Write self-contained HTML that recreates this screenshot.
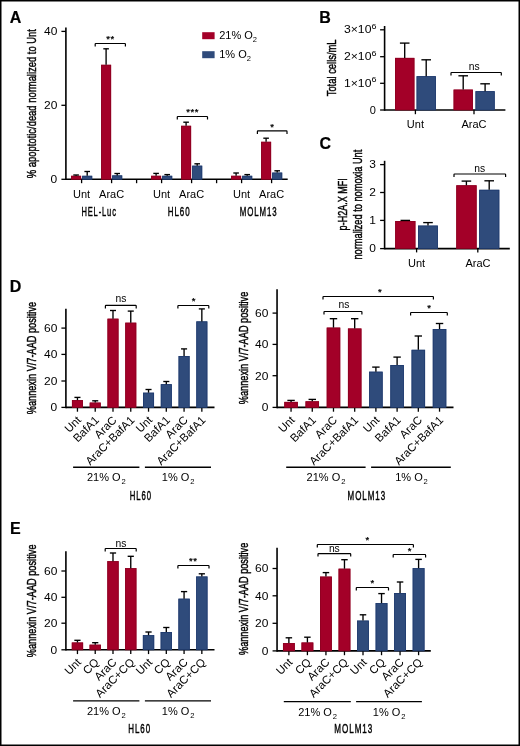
<!DOCTYPE html><html><head><meta charset="utf-8"><title>Figure</title><style>html,body{margin:0;padding:0;background:#fff;width:520px;height:746px;overflow:hidden}svg text{font-family:"Liberation Sans", sans-serif;fill:#000}</style></head><body><svg width="520" height="746" viewBox="0 0 520 746" style="display:block;font-family:'Liberation Sans', sans-serif;will-change:transform">
<rect x="0" y="0" width="520" height="746" fill="#fff"/>
<text x="9.80" y="22.90" font-size="16.0" text-anchor="start" font-weight="bold" stroke="#000" stroke-width="0.2">A</text>
<text x="319.33" y="22.90" font-size="16.0" text-anchor="start" font-weight="bold" stroke="#000" stroke-width="0.2">B</text>
<text x="319.44" y="148.80" font-size="16.0" text-anchor="start" font-weight="bold" stroke="#000" stroke-width="0.2">C</text>
<text x="9.63" y="291.70" font-size="16.0" text-anchor="start" font-weight="bold" stroke="#000" stroke-width="0.2">D</text>
<text x="9.93" y="533.90" font-size="16.0" text-anchor="start" font-weight="bold" stroke="#000" stroke-width="0.2">E</text>
<line x1="65.90" y1="27.60" x2="65.90" y2="180.10" stroke="#000" stroke-width="1.6"/>
<line x1="61.40" y1="31.40" x2="65.90" y2="31.40" stroke="#000" stroke-width="1.3"/>
<text transform="translate(57.30 35.20) scale(1.09 1)" font-size="11" text-anchor="end">40</text>
<line x1="61.40" y1="105.30" x2="65.90" y2="105.30" stroke="#000" stroke-width="1.3"/>
<text transform="translate(57.30 109.10) scale(1.09 1)" font-size="11" text-anchor="end">20</text>
<line x1="61.40" y1="179.30" x2="65.90" y2="179.30" stroke="#000" stroke-width="1.3"/>
<text transform="translate(57.30 183.10) scale(1.09 1)" font-size="11" text-anchor="end">0</text>
<line x1="65.90" y1="179.30" x2="287.70" y2="179.30" stroke="#000" stroke-width="1.6"/>
<line x1="81.60" y1="179.30" x2="81.60" y2="183.20" stroke="#000" stroke-width="1.3"/>
<line x1="111.60" y1="179.30" x2="111.60" y2="183.20" stroke="#000" stroke-width="1.3"/>
<line x1="161.60" y1="179.30" x2="161.60" y2="183.20" stroke="#000" stroke-width="1.3"/>
<line x1="191.60" y1="179.30" x2="191.60" y2="183.20" stroke="#000" stroke-width="1.3"/>
<line x1="241.60" y1="179.30" x2="241.60" y2="183.20" stroke="#000" stroke-width="1.3"/>
<line x1="271.60" y1="179.30" x2="271.60" y2="183.20" stroke="#000" stroke-width="1.3"/>
<line x1="136.60" y1="179.30" x2="136.60" y2="183.20" stroke="#000" stroke-width="1.3"/>
<line x1="216.60" y1="179.30" x2="216.60" y2="183.20" stroke="#000" stroke-width="1.3"/>
<rect x="71.10" y="175.80" width="10.00" height="3.50" fill="#a30028"/>
<rect x="71.50" y="176.20" width="9.20" height="3.10" fill="none" stroke="#8c0020" stroke-width="0.8"/>
<rect x="82.20" y="175.80" width="10.00" height="3.50" fill="#2f4b7b"/>
<rect x="82.60" y="176.20" width="9.20" height="3.10" fill="none" stroke="#1f3a6e" stroke-width="0.8"/>
<line x1="76.10" y1="175.80" x2="76.10" y2="175.00" stroke="#000" stroke-width="1.35"/>
<line x1="73.30" y1="175.00" x2="78.90" y2="175.00" stroke="#000" stroke-width="1.35"/>
<line x1="87.20" y1="175.80" x2="87.20" y2="171.50" stroke="#000" stroke-width="1.35"/>
<line x1="84.40" y1="171.50" x2="90.00" y2="171.50" stroke="#000" stroke-width="1.35"/>
<text x="81.60" y="198.20" font-size="11" text-anchor="middle">Unt</text>
<rect x="101.10" y="64.80" width="10.00" height="114.50" fill="#a30028"/>
<rect x="101.50" y="65.20" width="9.20" height="114.10" fill="none" stroke="#8c0020" stroke-width="0.8"/>
<rect x="112.20" y="175.40" width="10.00" height="3.90" fill="#2f4b7b"/>
<rect x="112.60" y="175.80" width="9.20" height="3.50" fill="none" stroke="#1f3a6e" stroke-width="0.8"/>
<line x1="106.10" y1="64.80" x2="106.10" y2="48.80" stroke="#000" stroke-width="1.35"/>
<line x1="103.30" y1="48.80" x2="108.90" y2="48.80" stroke="#000" stroke-width="1.35"/>
<line x1="117.20" y1="175.40" x2="117.20" y2="173.50" stroke="#000" stroke-width="1.35"/>
<line x1="114.40" y1="173.50" x2="120.00" y2="173.50" stroke="#000" stroke-width="1.35"/>
<text x="111.60" y="198.20" font-size="11" text-anchor="middle">AraC</text>
<rect x="151.10" y="175.80" width="10.00" height="3.50" fill="#a30028"/>
<rect x="151.50" y="176.20" width="9.20" height="3.10" fill="none" stroke="#8c0020" stroke-width="0.8"/>
<rect x="162.20" y="175.80" width="10.00" height="3.50" fill="#2f4b7b"/>
<rect x="162.60" y="176.20" width="9.20" height="3.10" fill="none" stroke="#1f3a6e" stroke-width="0.8"/>
<line x1="156.10" y1="175.80" x2="156.10" y2="173.40" stroke="#000" stroke-width="1.35"/>
<line x1="153.30" y1="173.40" x2="158.90" y2="173.40" stroke="#000" stroke-width="1.35"/>
<line x1="167.20" y1="175.80" x2="167.20" y2="174.60" stroke="#000" stroke-width="1.35"/>
<line x1="164.40" y1="174.60" x2="170.00" y2="174.60" stroke="#000" stroke-width="1.35"/>
<text x="161.60" y="198.20" font-size="11" text-anchor="middle">Unt</text>
<rect x="181.10" y="125.80" width="10.00" height="53.50" fill="#a30028"/>
<rect x="181.50" y="126.20" width="9.20" height="53.10" fill="none" stroke="#8c0020" stroke-width="0.8"/>
<rect x="192.20" y="165.70" width="10.00" height="13.60" fill="#2f4b7b"/>
<rect x="192.60" y="166.10" width="9.20" height="13.20" fill="none" stroke="#1f3a6e" stroke-width="0.8"/>
<line x1="186.10" y1="125.80" x2="186.10" y2="122.20" stroke="#000" stroke-width="1.35"/>
<line x1="183.30" y1="122.20" x2="188.90" y2="122.20" stroke="#000" stroke-width="1.35"/>
<line x1="197.20" y1="165.70" x2="197.20" y2="163.80" stroke="#000" stroke-width="1.35"/>
<line x1="194.40" y1="163.80" x2="200.00" y2="163.80" stroke="#000" stroke-width="1.35"/>
<text x="191.60" y="198.20" font-size="11" text-anchor="middle">AraC</text>
<rect x="231.10" y="175.80" width="10.00" height="3.50" fill="#a30028"/>
<rect x="231.50" y="176.20" width="9.20" height="3.10" fill="none" stroke="#8c0020" stroke-width="0.8"/>
<rect x="242.20" y="175.80" width="10.00" height="3.50" fill="#2f4b7b"/>
<rect x="242.60" y="176.20" width="9.20" height="3.10" fill="none" stroke="#1f3a6e" stroke-width="0.8"/>
<line x1="236.10" y1="175.80" x2="236.10" y2="173.00" stroke="#000" stroke-width="1.35"/>
<line x1="233.30" y1="173.00" x2="238.90" y2="173.00" stroke="#000" stroke-width="1.35"/>
<line x1="247.20" y1="175.80" x2="247.20" y2="174.60" stroke="#000" stroke-width="1.35"/>
<line x1="244.40" y1="174.60" x2="250.00" y2="174.60" stroke="#000" stroke-width="1.35"/>
<text x="241.60" y="198.20" font-size="11" text-anchor="middle">Unt</text>
<rect x="261.10" y="141.80" width="10.00" height="37.50" fill="#a30028"/>
<rect x="261.50" y="142.20" width="9.20" height="37.10" fill="none" stroke="#8c0020" stroke-width="0.8"/>
<rect x="272.20" y="172.60" width="10.00" height="6.70" fill="#2f4b7b"/>
<rect x="272.60" y="173.00" width="9.20" height="6.30" fill="none" stroke="#1f3a6e" stroke-width="0.8"/>
<line x1="266.10" y1="141.80" x2="266.10" y2="138.20" stroke="#000" stroke-width="1.35"/>
<line x1="263.30" y1="138.20" x2="268.90" y2="138.20" stroke="#000" stroke-width="1.35"/>
<line x1="277.20" y1="172.60" x2="277.20" y2="170.80" stroke="#000" stroke-width="1.35"/>
<line x1="274.40" y1="170.80" x2="280.00" y2="170.80" stroke="#000" stroke-width="1.35"/>
<text x="271.60" y="198.20" font-size="11" text-anchor="middle">AraC</text>
<path d="M95.20,46.50 L95.20,44.10 Q95.20,43.50 95.80,43.50 L124.80,43.50 Q125.40,43.50 125.40,44.10 L125.40,46.50" fill="none" stroke="#000" stroke-width="1.2"/>
<text x="110.50" y="42.18" font-size="9.5" text-anchor="middle" stroke="#000" stroke-width="0.25" letter-spacing="0.6">**</text>
<path d="M177.30,119.50 L177.30,117.10 Q177.30,116.50 177.90,116.50 L206.90,116.50 Q207.50,116.50 207.50,117.10 L207.50,119.50" fill="none" stroke="#000" stroke-width="1.2"/>
<text x="192.70" y="115.29" font-size="9.5" text-anchor="middle" stroke="#000" stroke-width="0.25" letter-spacing="0.6">***</text>
<path d="M257.40,133.90 L257.40,131.50 Q257.40,130.90 258.00,130.90 L286.40,130.90 Q287.00,130.90 287.00,131.50 L287.00,133.90" fill="none" stroke="#000" stroke-width="1.2"/>
<text x="272.50" y="129.69" font-size="9.5" text-anchor="middle" stroke="#000" stroke-width="0.25" letter-spacing="0.6">*</text>
<text transform="translate(81.42 216.20) scale(0.5560 1)" font-size="13.5" letter-spacing="1.6" stroke="#000" stroke-width="0.45">HEL-Luc</text>
<text transform="translate(167.68 216.20) scale(0.5906 1)" font-size="13.5" letter-spacing="1.6" stroke="#000" stroke-width="0.45">HL60</text>
<text transform="translate(239.69 216.20) scale(0.5829 1)" font-size="13.5" letter-spacing="1.6" stroke="#000" stroke-width="0.45">MOLM13</text>
<rect x="202.2" y="32.2" width="12.4" height="7" fill="#a30028"/>
<rect x="202.2" y="51.2" width="12.4" height="7" fill="#2f4b7b"/>
<text x="219.2" y="39.4" font-size="11">21% O<tspan font-size="7.5" dy="3">2</tspan></text>
<text x="219.2" y="58.2" font-size="11">1% O<tspan font-size="7.5" dy="3">2</tspan></text>
<text transform="translate(36.10 178.14) rotate(-90)" font-size="13.5" textLength="149.10" lengthAdjust="spacingAndGlyphs" stroke="#000" stroke-width="0.45">% apoptotic/dead normalized to Unt</text>
<line x1="384.60" y1="26.00" x2="384.60" y2="110.80" stroke="#000" stroke-width="1.6"/>
<line x1="380.10" y1="29.80" x2="384.60" y2="29.80" stroke="#000" stroke-width="1.3"/>
<text x="344.0" y="33.20" font-size="10.6" textLength="32.4" lengthAdjust="spacingAndGlyphs">3×10<tspan font-size="7.8" dy="-4.4">6</tspan></text>
<line x1="380.10" y1="56.70" x2="384.60" y2="56.70" stroke="#000" stroke-width="1.3"/>
<text x="344.0" y="60.10" font-size="10.6" textLength="32.4" lengthAdjust="spacingAndGlyphs">2×10<tspan font-size="7.8" dy="-4.4">6</tspan></text>
<line x1="380.10" y1="83.30" x2="384.60" y2="83.30" stroke="#000" stroke-width="1.3"/>
<text x="344.0" y="86.70" font-size="10.6" textLength="32.4" lengthAdjust="spacingAndGlyphs">1×10<tspan font-size="7.8" dy="-4.4">6</tspan></text>
<line x1="380.10" y1="110.00" x2="384.60" y2="110.00" stroke="#000" stroke-width="1.3"/>
<text x="375.80" y="113.80" font-size="11" text-anchor="end">0</text>
<line x1="384.60" y1="110.00" x2="505.40" y2="110.00" stroke="#000" stroke-width="1.6"/>
<line x1="415.40" y1="110.00" x2="415.40" y2="114.20" stroke="#000" stroke-width="1.3"/>
<line x1="474.00" y1="110.00" x2="474.00" y2="114.20" stroke="#000" stroke-width="1.3"/>
<rect x="395.00" y="57.90" width="19.40" height="52.10" fill="#a30028"/>
<rect x="395.40" y="58.30" width="18.60" height="51.70" fill="none" stroke="#8c0020" stroke-width="0.8"/>
<line x1="404.70" y1="57.90" x2="404.70" y2="43.10" stroke="#000" stroke-width="1.35"/>
<line x1="399.90" y1="43.10" x2="409.50" y2="43.10" stroke="#000" stroke-width="1.35"/>
<rect x="416.60" y="76.20" width="19.30" height="33.80" fill="#2f4b7b"/>
<rect x="417.00" y="76.60" width="18.50" height="33.40" fill="none" stroke="#1f3a6e" stroke-width="0.8"/>
<line x1="426.20" y1="76.20" x2="426.20" y2="59.80" stroke="#000" stroke-width="1.35"/>
<line x1="421.40" y1="59.80" x2="431.00" y2="59.80" stroke="#000" stroke-width="1.35"/>
<rect x="453.60" y="89.60" width="19.30" height="20.40" fill="#a30028"/>
<rect x="454.00" y="90.00" width="18.50" height="20.00" fill="none" stroke="#8c0020" stroke-width="0.8"/>
<line x1="463.20" y1="89.60" x2="463.20" y2="75.80" stroke="#000" stroke-width="1.35"/>
<line x1="458.40" y1="75.80" x2="468.00" y2="75.80" stroke="#000" stroke-width="1.35"/>
<rect x="475.50" y="91.20" width="19.20" height="18.80" fill="#2f4b7b"/>
<rect x="475.90" y="91.60" width="18.40" height="18.40" fill="none" stroke="#1f3a6e" stroke-width="0.8"/>
<line x1="485.10" y1="91.20" x2="485.10" y2="83.80" stroke="#000" stroke-width="1.35"/>
<line x1="480.30" y1="83.80" x2="489.90" y2="83.80" stroke="#000" stroke-width="1.35"/>
<path d="M451.00,75.50 L451.00,73.10 Q451.00,72.50 451.60,72.50 L500.70,72.50 Q501.30,72.50 501.30,73.10 L501.30,75.50" fill="none" stroke="#000" stroke-width="1.2"/>
<text x="474.15" y="70.10" font-size="10.3" text-anchor="middle">ns</text>
<text x="415.40" y="128.10" font-size="11" text-anchor="middle">Unt</text>
<text x="474.00" y="128.40" font-size="11" text-anchor="middle">AraC</text>
<text transform="translate(336.10 96.31) rotate(-90)" font-size="13.5" textLength="56.91" lengthAdjust="spacingAndGlyphs" stroke="#000" stroke-width="0.45">Total cells/mL</text>
<line x1="384.60" y1="160.80" x2="384.60" y2="249.40" stroke="#000" stroke-width="1.6"/>
<line x1="380.10" y1="164.60" x2="384.60" y2="164.60" stroke="#000" stroke-width="1.3"/>
<text transform="translate(376.00 168.40) scale(1.09 1)" font-size="11" text-anchor="end">3</text>
<line x1="380.10" y1="192.50" x2="384.60" y2="192.50" stroke="#000" stroke-width="1.3"/>
<text transform="translate(376.00 196.30) scale(1.09 1)" font-size="11" text-anchor="end">2</text>
<line x1="380.10" y1="220.40" x2="384.60" y2="220.40" stroke="#000" stroke-width="1.3"/>
<text transform="translate(376.00 224.20) scale(1.09 1)" font-size="11" text-anchor="end">1</text>
<line x1="380.10" y1="248.60" x2="384.60" y2="248.60" stroke="#000" stroke-width="1.3"/>
<text transform="translate(376.00 252.40) scale(1.09 1)" font-size="11" text-anchor="end">0</text>
<line x1="384.60" y1="248.60" x2="509.80" y2="248.60" stroke="#000" stroke-width="1.6"/>
<line x1="416.60" y1="248.60" x2="416.60" y2="252.40" stroke="#000" stroke-width="1.3"/>
<line x1="477.80" y1="248.60" x2="477.80" y2="252.40" stroke="#000" stroke-width="1.3"/>
<rect x="395.20" y="221.00" width="20.20" height="27.60" fill="#a30028"/>
<rect x="395.60" y="221.40" width="19.40" height="27.20" fill="none" stroke="#8c0020" stroke-width="0.8"/>
<line x1="405.30" y1="221.00" x2="405.30" y2="220.40" stroke="#000" stroke-width="1.35"/>
<line x1="400.50" y1="220.40" x2="410.10" y2="220.40" stroke="#000" stroke-width="1.35"/>
<rect x="418.00" y="225.60" width="19.90" height="23.00" fill="#2f4b7b"/>
<rect x="418.40" y="226.00" width="19.10" height="22.60" fill="none" stroke="#1f3a6e" stroke-width="0.8"/>
<line x1="428.00" y1="225.60" x2="428.00" y2="222.60" stroke="#000" stroke-width="1.35"/>
<line x1="423.20" y1="222.60" x2="432.80" y2="222.60" stroke="#000" stroke-width="1.35"/>
<rect x="456.30" y="185.30" width="20.30" height="63.30" fill="#a30028"/>
<rect x="456.70" y="185.70" width="19.50" height="62.90" fill="none" stroke="#8c0020" stroke-width="0.8"/>
<line x1="466.40" y1="185.30" x2="466.40" y2="181.10" stroke="#000" stroke-width="1.35"/>
<line x1="461.60" y1="181.10" x2="471.20" y2="181.10" stroke="#000" stroke-width="1.35"/>
<rect x="479.20" y="189.80" width="20.10" height="58.80" fill="#2f4b7b"/>
<rect x="479.60" y="190.20" width="19.30" height="58.40" fill="none" stroke="#1f3a6e" stroke-width="0.8"/>
<line x1="489.20" y1="189.80" x2="489.20" y2="180.80" stroke="#000" stroke-width="1.35"/>
<line x1="484.40" y1="180.80" x2="494.00" y2="180.80" stroke="#000" stroke-width="1.35"/>
<path d="M454.00,177.00 L454.00,174.60 Q454.00,174.00 454.60,174.00 L505.00,174.00 Q505.60,174.00 505.60,174.60 L505.60,177.00" fill="none" stroke="#000" stroke-width="1.2"/>
<text x="479.70" y="172.10" font-size="10.3" text-anchor="middle">ns</text>
<text x="416.50" y="267.10" font-size="11" text-anchor="middle">Unt</text>
<text x="478.00" y="267.00" font-size="11" text-anchor="middle">AraC</text>
<text transform="translate(346.70 230.38) rotate(-90)" font-size="13.5" textLength="52.11" lengthAdjust="spacingAndGlyphs" stroke="#000" stroke-width="0.45">p-H2A.X MFI</text>
<text transform="translate(361.70 259.51) rotate(-90)" font-size="13.5" textLength="109.78" lengthAdjust="spacingAndGlyphs" stroke="#000" stroke-width="0.45">normalized to nomoxia Unt</text>
<line x1="65.90" y1="308.80" x2="65.90" y2="408.20" stroke="#000" stroke-width="1.6"/>
<line x1="61.40" y1="328.10" x2="65.90" y2="328.10" stroke="#000" stroke-width="1.3"/>
<text transform="translate(57.30 331.90) scale(1.09 1)" font-size="11" text-anchor="end">60</text>
<line x1="61.40" y1="354.40" x2="65.90" y2="354.40" stroke="#000" stroke-width="1.3"/>
<text transform="translate(57.30 358.20) scale(1.09 1)" font-size="11" text-anchor="end">40</text>
<line x1="61.40" y1="381.00" x2="65.90" y2="381.00" stroke="#000" stroke-width="1.3"/>
<text transform="translate(57.30 384.80) scale(1.09 1)" font-size="11" text-anchor="end">20</text>
<line x1="61.40" y1="407.40" x2="65.90" y2="407.40" stroke="#000" stroke-width="1.3"/>
<text transform="translate(57.30 411.20) scale(1.09 1)" font-size="11" text-anchor="end">0</text>
<line x1="65.90" y1="407.40" x2="214.50" y2="407.40" stroke="#000" stroke-width="1.6"/>
<line x1="77.45" y1="407.40" x2="77.45" y2="411.70" stroke="#000" stroke-width="1.3"/>
<rect x="71.95" y="400.10" width="11.00" height="7.30" fill="#a30028"/>
<rect x="72.35" y="400.50" width="10.20" height="6.90" fill="none" stroke="#8c0020" stroke-width="0.8"/>
<line x1="77.45" y1="400.10" x2="77.45" y2="397.40" stroke="#000" stroke-width="1.35"/>
<line x1="74.42" y1="397.40" x2="80.48" y2="397.40" stroke="#000" stroke-width="1.35"/>
<text x="81.85" y="420.80" font-size="11.4" text-anchor="end" transform="rotate(-45 81.85 420.80)">Unt</text>
<line x1="95.22" y1="407.40" x2="95.22" y2="411.70" stroke="#000" stroke-width="1.3"/>
<rect x="89.72" y="402.60" width="11.00" height="4.80" fill="#a30028"/>
<rect x="90.12" y="403.00" width="10.20" height="4.40" fill="none" stroke="#8c0020" stroke-width="0.8"/>
<line x1="95.22" y1="402.60" x2="95.22" y2="400.80" stroke="#000" stroke-width="1.35"/>
<line x1="92.19" y1="400.80" x2="98.25" y2="400.80" stroke="#000" stroke-width="1.35"/>
<text x="99.62" y="420.80" font-size="11.4" text-anchor="end" transform="rotate(-45 99.62 420.80)">BafA1</text>
<line x1="112.99" y1="407.40" x2="112.99" y2="411.70" stroke="#000" stroke-width="1.3"/>
<rect x="107.49" y="318.70" width="11.00" height="88.70" fill="#a30028"/>
<rect x="107.89" y="319.10" width="10.20" height="88.30" fill="none" stroke="#8c0020" stroke-width="0.8"/>
<line x1="112.99" y1="318.70" x2="112.99" y2="310.50" stroke="#000" stroke-width="1.35"/>
<line x1="109.97" y1="310.50" x2="116.02" y2="310.50" stroke="#000" stroke-width="1.35"/>
<text x="117.39" y="420.80" font-size="11.4" text-anchor="end" transform="rotate(-45 117.39 420.80)">AraC</text>
<line x1="130.76" y1="407.40" x2="130.76" y2="411.70" stroke="#000" stroke-width="1.3"/>
<rect x="125.26" y="322.70" width="11.00" height="84.70" fill="#a30028"/>
<rect x="125.66" y="323.10" width="10.20" height="84.30" fill="none" stroke="#8c0020" stroke-width="0.8"/>
<line x1="130.76" y1="322.70" x2="130.76" y2="311.10" stroke="#000" stroke-width="1.35"/>
<line x1="127.73" y1="311.10" x2="133.78" y2="311.10" stroke="#000" stroke-width="1.35"/>
<text x="135.16" y="420.80" font-size="11.4" text-anchor="end" transform="rotate(-45 135.16 420.80)">AraC+BafA1</text>
<line x1="148.53" y1="407.40" x2="148.53" y2="411.70" stroke="#000" stroke-width="1.3"/>
<rect x="143.03" y="392.70" width="11.00" height="14.70" fill="#2f4b7b"/>
<rect x="143.43" y="393.10" width="10.20" height="14.30" fill="none" stroke="#1f3a6e" stroke-width="0.8"/>
<line x1="148.53" y1="392.70" x2="148.53" y2="389.50" stroke="#000" stroke-width="1.35"/>
<line x1="145.50" y1="389.50" x2="151.56" y2="389.50" stroke="#000" stroke-width="1.35"/>
<text x="152.93" y="420.80" font-size="11.4" text-anchor="end" transform="rotate(-45 152.93 420.80)">Unt</text>
<line x1="166.30" y1="407.40" x2="166.30" y2="411.70" stroke="#000" stroke-width="1.3"/>
<rect x="160.80" y="384.20" width="11.00" height="23.20" fill="#2f4b7b"/>
<rect x="161.20" y="384.60" width="10.20" height="22.80" fill="none" stroke="#1f3a6e" stroke-width="0.8"/>
<line x1="166.30" y1="384.20" x2="166.30" y2="381.50" stroke="#000" stroke-width="1.35"/>
<line x1="163.28" y1="381.50" x2="169.33" y2="381.50" stroke="#000" stroke-width="1.35"/>
<text x="170.70" y="420.80" font-size="11.4" text-anchor="end" transform="rotate(-45 170.70 420.80)">BafA1</text>
<line x1="184.07" y1="407.40" x2="184.07" y2="411.70" stroke="#000" stroke-width="1.3"/>
<rect x="178.57" y="356.00" width="11.00" height="51.40" fill="#2f4b7b"/>
<rect x="178.97" y="356.40" width="10.20" height="51.00" fill="none" stroke="#1f3a6e" stroke-width="0.8"/>
<line x1="184.07" y1="356.00" x2="184.07" y2="348.90" stroke="#000" stroke-width="1.35"/>
<line x1="181.04" y1="348.90" x2="187.09" y2="348.90" stroke="#000" stroke-width="1.35"/>
<text x="188.47" y="420.80" font-size="11.4" text-anchor="end" transform="rotate(-45 188.47 420.80)">AraC</text>
<line x1="201.84" y1="407.40" x2="201.84" y2="411.70" stroke="#000" stroke-width="1.3"/>
<rect x="196.34" y="321.40" width="11.00" height="86.00" fill="#2f4b7b"/>
<rect x="196.74" y="321.80" width="10.20" height="85.60" fill="none" stroke="#1f3a6e" stroke-width="0.8"/>
<line x1="201.84" y1="321.40" x2="201.84" y2="308.90" stroke="#000" stroke-width="1.35"/>
<line x1="198.81" y1="308.90" x2="204.87" y2="308.90" stroke="#000" stroke-width="1.35"/>
<text x="206.24" y="420.80" font-size="11.4" text-anchor="end" transform="rotate(-45 206.24 420.80)">AraC+BafA1</text>
<path d="M105.40,308.40 L105.40,306.00 Q105.40,305.40 106.00,305.40 L135.60,305.40 Q136.20,305.40 136.20,306.00 L136.20,308.40" fill="none" stroke="#000" stroke-width="1.2"/>
<text x="121.00" y="302.10" font-size="10.3" text-anchor="middle">ns</text>
<path d="M177.90,308.50 L177.90,306.10 Q177.90,305.50 178.50,305.50 L208.20,305.50 Q208.80,305.50 208.80,306.10 L208.80,308.50" fill="none" stroke="#000" stroke-width="1.2"/>
<text x="193.80" y="303.88" font-size="9.5" text-anchor="middle" stroke="#000" stroke-width="0.25" letter-spacing="0.6">*</text>
<line x1="73.10" y1="467.30" x2="139.40" y2="467.30" stroke="#000" stroke-width="1.4"/>
<line x1="144.90" y1="467.30" x2="211.00" y2="467.30" stroke="#000" stroke-width="1.4"/>
<text x="106.30" y="481.20" font-size="11" text-anchor="middle">21% O<tspan font-size="7.6" dx="0.9" dy="3">2</tspan></text>
<text x="178.10" y="481.20" font-size="11" text-anchor="middle">1% O<tspan font-size="7.6" dx="0.9" dy="3">2</tspan></text>
<text transform="translate(129.70 499.60) scale(0.5737 1)" font-size="13.5" letter-spacing="1.6" stroke="#000" stroke-width="0.45">HL60</text>
<text transform="translate(36.10 414.23) rotate(-90)" font-size="13.5" textLength="112.34" lengthAdjust="spacingAndGlyphs" stroke="#000" stroke-width="0.45">%annexin V/7-AAD positive</text>
<line x1="277.05" y1="289.20" x2="277.05" y2="408.20" stroke="#000" stroke-width="1.6"/>
<line x1="272.55" y1="313.10" x2="277.05" y2="313.10" stroke="#000" stroke-width="1.3"/>
<text transform="translate(268.45 316.90) scale(1.09 1)" font-size="11" text-anchor="end">60</text>
<line x1="272.55" y1="344.40" x2="277.05" y2="344.40" stroke="#000" stroke-width="1.3"/>
<text transform="translate(268.45 348.20) scale(1.09 1)" font-size="11" text-anchor="end">40</text>
<line x1="272.55" y1="375.70" x2="277.05" y2="375.70" stroke="#000" stroke-width="1.3"/>
<text transform="translate(268.45 379.50) scale(1.09 1)" font-size="11" text-anchor="end">20</text>
<line x1="272.55" y1="407.40" x2="277.05" y2="407.40" stroke="#000" stroke-width="1.3"/>
<text transform="translate(268.45 411.20) scale(1.09 1)" font-size="11" text-anchor="end">0</text>
<line x1="277.05" y1="407.40" x2="453.50" y2="407.40" stroke="#000" stroke-width="1.6"/>
<line x1="291.06" y1="407.40" x2="291.06" y2="411.70" stroke="#000" stroke-width="1.3"/>
<rect x="284.31" y="401.90" width="13.50" height="5.50" fill="#a30028"/>
<rect x="284.71" y="402.30" width="12.70" height="5.10" fill="none" stroke="#8c0020" stroke-width="0.8"/>
<line x1="291.06" y1="401.90" x2="291.06" y2="400.40" stroke="#000" stroke-width="1.35"/>
<line x1="287.35" y1="400.40" x2="294.77" y2="400.40" stroke="#000" stroke-width="1.35"/>
<text x="295.46" y="420.80" font-size="11.4" text-anchor="end" transform="rotate(-45 295.46 420.80)">Unt</text>
<line x1="312.27" y1="407.40" x2="312.27" y2="411.70" stroke="#000" stroke-width="1.3"/>
<rect x="305.52" y="401.30" width="13.50" height="6.10" fill="#a30028"/>
<rect x="305.92" y="401.70" width="12.70" height="5.70" fill="none" stroke="#8c0020" stroke-width="0.8"/>
<line x1="312.27" y1="401.30" x2="312.27" y2="399.40" stroke="#000" stroke-width="1.35"/>
<line x1="308.56" y1="399.40" x2="315.98" y2="399.40" stroke="#000" stroke-width="1.35"/>
<text x="316.67" y="420.80" font-size="11.4" text-anchor="end" transform="rotate(-45 316.67 420.80)">BafA1</text>
<line x1="333.48" y1="407.40" x2="333.48" y2="411.70" stroke="#000" stroke-width="1.3"/>
<rect x="326.73" y="327.60" width="13.50" height="79.80" fill="#a30028"/>
<rect x="327.13" y="328.00" width="12.70" height="79.40" fill="none" stroke="#8c0020" stroke-width="0.8"/>
<line x1="333.48" y1="327.60" x2="333.48" y2="318.70" stroke="#000" stroke-width="1.35"/>
<line x1="329.77" y1="318.70" x2="337.19" y2="318.70" stroke="#000" stroke-width="1.35"/>
<text x="337.88" y="420.80" font-size="11.4" text-anchor="end" transform="rotate(-45 337.88 420.80)">AraC</text>
<line x1="354.69" y1="407.40" x2="354.69" y2="411.70" stroke="#000" stroke-width="1.3"/>
<rect x="347.94" y="328.50" width="13.50" height="78.90" fill="#a30028"/>
<rect x="348.34" y="328.90" width="12.70" height="78.50" fill="none" stroke="#8c0020" stroke-width="0.8"/>
<line x1="354.69" y1="328.50" x2="354.69" y2="318.70" stroke="#000" stroke-width="1.35"/>
<line x1="350.98" y1="318.70" x2="358.40" y2="318.70" stroke="#000" stroke-width="1.35"/>
<text x="359.09" y="420.80" font-size="11.4" text-anchor="end" transform="rotate(-45 359.09 420.80)">AraC+BafA1</text>
<line x1="375.90" y1="407.40" x2="375.90" y2="411.70" stroke="#000" stroke-width="1.3"/>
<rect x="369.15" y="371.70" width="13.50" height="35.70" fill="#2f4b7b"/>
<rect x="369.55" y="372.10" width="12.70" height="35.30" fill="none" stroke="#1f3a6e" stroke-width="0.8"/>
<line x1="375.90" y1="371.70" x2="375.90" y2="367.10" stroke="#000" stroke-width="1.35"/>
<line x1="372.19" y1="367.10" x2="379.61" y2="367.10" stroke="#000" stroke-width="1.35"/>
<text x="380.30" y="420.80" font-size="11.4" text-anchor="end" transform="rotate(-45 380.30 420.80)">Unt</text>
<line x1="397.11" y1="407.40" x2="397.11" y2="411.70" stroke="#000" stroke-width="1.3"/>
<rect x="390.36" y="365.00" width="13.50" height="42.40" fill="#2f4b7b"/>
<rect x="390.76" y="365.40" width="12.70" height="42.00" fill="none" stroke="#1f3a6e" stroke-width="0.8"/>
<line x1="397.11" y1="365.00" x2="397.11" y2="357.10" stroke="#000" stroke-width="1.35"/>
<line x1="393.40" y1="357.10" x2="400.82" y2="357.10" stroke="#000" stroke-width="1.35"/>
<text x="401.51" y="420.80" font-size="11.4" text-anchor="end" transform="rotate(-45 401.51 420.80)">BafA1</text>
<line x1="418.32" y1="407.40" x2="418.32" y2="411.70" stroke="#000" stroke-width="1.3"/>
<rect x="411.57" y="349.80" width="13.50" height="57.60" fill="#2f4b7b"/>
<rect x="411.97" y="350.20" width="12.70" height="57.20" fill="none" stroke="#1f3a6e" stroke-width="0.8"/>
<line x1="418.32" y1="349.80" x2="418.32" y2="336.00" stroke="#000" stroke-width="1.35"/>
<line x1="414.61" y1="336.00" x2="422.03" y2="336.00" stroke="#000" stroke-width="1.35"/>
<text x="422.72" y="420.80" font-size="11.4" text-anchor="end" transform="rotate(-45 422.72 420.80)">AraC</text>
<line x1="439.53" y1="407.40" x2="439.53" y2="411.70" stroke="#000" stroke-width="1.3"/>
<rect x="432.78" y="329.00" width="13.50" height="78.40" fill="#2f4b7b"/>
<rect x="433.18" y="329.40" width="12.70" height="78.00" fill="none" stroke="#1f3a6e" stroke-width="0.8"/>
<line x1="439.53" y1="329.00" x2="439.53" y2="323.50" stroke="#000" stroke-width="1.35"/>
<line x1="435.82" y1="323.50" x2="443.24" y2="323.50" stroke="#000" stroke-width="1.35"/>
<text x="443.93" y="420.80" font-size="11.4" text-anchor="end" transform="rotate(-45 443.93 420.80)">AraC+BafA1</text>
<path d="M323.00,299.50 L323.00,297.10 Q323.00,296.50 323.60,296.50 L432.80,296.50 Q433.40,296.50 433.40,297.10 L433.40,299.50" fill="none" stroke="#000" stroke-width="1.2"/>
<text x="380.10" y="294.99" font-size="9.5" text-anchor="middle" stroke="#000" stroke-width="0.25" letter-spacing="0.6">*</text>
<path d="M324.00,314.50 L324.00,312.10 Q324.00,311.50 324.60,311.50 L361.30,311.50 Q361.90,311.50 361.90,312.10 L361.90,314.50" fill="none" stroke="#000" stroke-width="1.2"/>
<text x="343.95" y="308.20" font-size="10.3" text-anchor="middle">ns</text>
<path d="M410.60,315.50 L410.60,313.10 Q410.60,312.50 411.20,312.50 L446.70,312.50 Q447.30,312.50 447.30,313.10 L447.30,315.50" fill="none" stroke="#000" stroke-width="1.2"/>
<text x="429.30" y="310.78" font-size="9.5" text-anchor="middle" stroke="#000" stroke-width="0.25" letter-spacing="0.6">*</text>
<line x1="286.20" y1="467.20" x2="365.60" y2="467.20" stroke="#000" stroke-width="1.4"/>
<line x1="371.10" y1="467.20" x2="450.80" y2="467.20" stroke="#000" stroke-width="1.4"/>
<text x="326.00" y="481.10" font-size="11" text-anchor="middle">21% O<tspan font-size="7.6" dx="0.9" dy="3">2</tspan></text>
<text x="411.50" y="481.10" font-size="11" text-anchor="middle">1% O<tspan font-size="7.6" dx="0.9" dy="3">2</tspan></text>
<text transform="translate(347.58 499.60) scale(0.5926 1)" font-size="13.5" letter-spacing="1.6" stroke="#000" stroke-width="0.45">MOLM13</text>
<text transform="translate(247.50 404.23) rotate(-90)" font-size="13.5" textLength="112.54" lengthAdjust="spacingAndGlyphs" stroke="#000" stroke-width="0.45">%annexin V/7-AAD positive</text>
<line x1="65.90" y1="551.30" x2="65.90" y2="650.60" stroke="#000" stroke-width="1.6"/>
<line x1="61.40" y1="571.00" x2="65.90" y2="571.00" stroke="#000" stroke-width="1.3"/>
<text transform="translate(57.30 574.80) scale(1.09 1)" font-size="11" text-anchor="end">60</text>
<line x1="61.40" y1="597.30" x2="65.90" y2="597.30" stroke="#000" stroke-width="1.3"/>
<text transform="translate(57.30 601.10) scale(1.09 1)" font-size="11" text-anchor="end">40</text>
<line x1="61.40" y1="623.20" x2="65.90" y2="623.20" stroke="#000" stroke-width="1.3"/>
<text transform="translate(57.30 627.00) scale(1.09 1)" font-size="11" text-anchor="end">20</text>
<line x1="61.40" y1="649.80" x2="65.90" y2="649.80" stroke="#000" stroke-width="1.3"/>
<text transform="translate(57.30 653.60) scale(1.09 1)" font-size="11" text-anchor="end">0</text>
<line x1="65.90" y1="649.80" x2="214.50" y2="649.80" stroke="#000" stroke-width="1.6"/>
<line x1="77.45" y1="649.80" x2="77.45" y2="654.10" stroke="#000" stroke-width="1.3"/>
<rect x="71.80" y="642.50" width="11.30" height="7.30" fill="#a30028"/>
<rect x="72.20" y="642.90" width="10.50" height="6.90" fill="none" stroke="#8c0020" stroke-width="0.8"/>
<line x1="77.45" y1="642.50" x2="77.45" y2="640.30" stroke="#000" stroke-width="1.35"/>
<line x1="74.34" y1="640.30" x2="80.56" y2="640.30" stroke="#000" stroke-width="1.35"/>
<text x="81.85" y="663.00" font-size="11.4" text-anchor="end" transform="rotate(-45 81.85 663.00)">Unt</text>
<line x1="95.22" y1="649.80" x2="95.22" y2="654.10" stroke="#000" stroke-width="1.3"/>
<rect x="89.57" y="644.70" width="11.30" height="5.10" fill="#a30028"/>
<rect x="89.97" y="645.10" width="10.50" height="4.70" fill="none" stroke="#8c0020" stroke-width="0.8"/>
<line x1="95.22" y1="644.70" x2="95.22" y2="642.70" stroke="#000" stroke-width="1.35"/>
<line x1="92.11" y1="642.70" x2="98.33" y2="642.70" stroke="#000" stroke-width="1.35"/>
<text x="99.62" y="663.00" font-size="11.4" text-anchor="end" transform="rotate(-45 99.62 663.00)">CQ</text>
<line x1="112.99" y1="649.80" x2="112.99" y2="654.10" stroke="#000" stroke-width="1.3"/>
<rect x="107.34" y="561.20" width="11.30" height="88.60" fill="#a30028"/>
<rect x="107.74" y="561.60" width="10.50" height="88.20" fill="none" stroke="#8c0020" stroke-width="0.8"/>
<line x1="112.99" y1="561.20" x2="112.99" y2="553.00" stroke="#000" stroke-width="1.35"/>
<line x1="109.88" y1="553.00" x2="116.10" y2="553.00" stroke="#000" stroke-width="1.35"/>
<text x="117.39" y="663.00" font-size="11.4" text-anchor="end" transform="rotate(-45 117.39 663.00)">AraC</text>
<line x1="130.76" y1="649.80" x2="130.76" y2="654.10" stroke="#000" stroke-width="1.3"/>
<rect x="125.11" y="568.20" width="11.30" height="81.60" fill="#a30028"/>
<rect x="125.51" y="568.60" width="10.50" height="81.20" fill="none" stroke="#8c0020" stroke-width="0.8"/>
<line x1="130.76" y1="568.20" x2="130.76" y2="556.30" stroke="#000" stroke-width="1.35"/>
<line x1="127.65" y1="556.30" x2="133.87" y2="556.30" stroke="#000" stroke-width="1.35"/>
<text x="135.16" y="663.00" font-size="11.4" text-anchor="end" transform="rotate(-45 135.16 663.00)">AraC+CQ</text>
<line x1="148.53" y1="649.80" x2="148.53" y2="654.10" stroke="#000" stroke-width="1.3"/>
<rect x="142.88" y="635.20" width="11.30" height="14.60" fill="#2f4b7b"/>
<rect x="143.28" y="635.60" width="10.50" height="14.20" fill="none" stroke="#1f3a6e" stroke-width="0.8"/>
<line x1="148.53" y1="635.20" x2="148.53" y2="632.00" stroke="#000" stroke-width="1.35"/>
<line x1="145.42" y1="632.00" x2="151.64" y2="632.00" stroke="#000" stroke-width="1.35"/>
<text x="152.93" y="663.00" font-size="11.4" text-anchor="end" transform="rotate(-45 152.93 663.00)">Unt</text>
<line x1="166.30" y1="649.80" x2="166.30" y2="654.10" stroke="#000" stroke-width="1.3"/>
<rect x="160.65" y="632.00" width="11.30" height="17.80" fill="#2f4b7b"/>
<rect x="161.05" y="632.40" width="10.50" height="17.40" fill="none" stroke="#1f3a6e" stroke-width="0.8"/>
<line x1="166.30" y1="632.00" x2="166.30" y2="627.50" stroke="#000" stroke-width="1.35"/>
<line x1="163.19" y1="627.50" x2="169.41" y2="627.50" stroke="#000" stroke-width="1.35"/>
<text x="170.70" y="663.00" font-size="11.4" text-anchor="end" transform="rotate(-45 170.70 663.00)">CQ</text>
<line x1="184.07" y1="649.80" x2="184.07" y2="654.10" stroke="#000" stroke-width="1.3"/>
<rect x="178.42" y="598.70" width="11.30" height="51.10" fill="#2f4b7b"/>
<rect x="178.82" y="599.10" width="10.50" height="50.70" fill="none" stroke="#1f3a6e" stroke-width="0.8"/>
<line x1="184.07" y1="598.70" x2="184.07" y2="591.60" stroke="#000" stroke-width="1.35"/>
<line x1="180.96" y1="591.60" x2="187.18" y2="591.60" stroke="#000" stroke-width="1.35"/>
<text x="188.47" y="663.00" font-size="11.4" text-anchor="end" transform="rotate(-45 188.47 663.00)">AraC</text>
<line x1="201.84" y1="649.80" x2="201.84" y2="654.10" stroke="#000" stroke-width="1.3"/>
<rect x="196.19" y="576.50" width="11.30" height="73.30" fill="#2f4b7b"/>
<rect x="196.59" y="576.90" width="10.50" height="72.90" fill="none" stroke="#1f3a6e" stroke-width="0.8"/>
<line x1="201.84" y1="576.50" x2="201.84" y2="573.80" stroke="#000" stroke-width="1.35"/>
<line x1="198.73" y1="573.80" x2="204.95" y2="573.80" stroke="#000" stroke-width="1.35"/>
<text x="206.24" y="663.00" font-size="11.4" text-anchor="end" transform="rotate(-45 206.24 663.00)">AraC+CQ</text>
<path d="M105.20,551.50 L105.20,549.10 Q105.20,548.50 105.80,548.50 L135.60,548.50 Q136.20,548.50 136.20,549.10 L136.20,551.50" fill="none" stroke="#000" stroke-width="1.2"/>
<text x="120.90" y="546.60" font-size="10.3" text-anchor="middle">ns</text>
<path d="M177.90,568.50 L177.90,566.10 Q177.90,565.50 178.50,565.50 L208.40,565.50 Q209.00,565.50 209.00,566.10 L209.00,568.50" fill="none" stroke="#000" stroke-width="1.2"/>
<text x="193.20" y="564.18" font-size="9.5" text-anchor="middle" stroke="#000" stroke-width="0.25" letter-spacing="0.6">**</text>
<line x1="73.10" y1="700.90" x2="139.40" y2="700.90" stroke="#000" stroke-width="1.4"/>
<line x1="144.90" y1="700.90" x2="211.00" y2="700.90" stroke="#000" stroke-width="1.4"/>
<text x="106.30" y="714.80" font-size="11" text-anchor="middle">21% O<tspan font-size="7.6" dx="0.9" dy="3">2</tspan></text>
<text x="178.10" y="714.80" font-size="11" text-anchor="middle">1% O<tspan font-size="7.6" dx="0.9" dy="3">2</tspan></text>
<text transform="translate(128.28 733.30) scale(0.5906 1)" font-size="13.5" letter-spacing="1.6" stroke="#000" stroke-width="0.45">HL60</text>
<text transform="translate(36.10 657.23) rotate(-90)" font-size="13.5" textLength="112.74" lengthAdjust="spacingAndGlyphs" stroke="#000" stroke-width="0.45">%annexin V/7-AAD positive</text>
<line x1="277.05" y1="547.70" x2="277.05" y2="651.70" stroke="#000" stroke-width="1.6"/>
<line x1="272.55" y1="568.50" x2="277.05" y2="568.50" stroke="#000" stroke-width="1.3"/>
<text transform="translate(268.45 572.30) scale(1.09 1)" font-size="11" text-anchor="end">60</text>
<line x1="272.55" y1="595.80" x2="277.05" y2="595.80" stroke="#000" stroke-width="1.3"/>
<text transform="translate(268.45 599.60) scale(1.09 1)" font-size="11" text-anchor="end">40</text>
<line x1="272.55" y1="623.30" x2="277.05" y2="623.30" stroke="#000" stroke-width="1.3"/>
<text transform="translate(268.45 627.10) scale(1.09 1)" font-size="11" text-anchor="end">20</text>
<line x1="272.55" y1="650.90" x2="277.05" y2="650.90" stroke="#000" stroke-width="1.3"/>
<text transform="translate(268.45 654.70) scale(1.09 1)" font-size="11" text-anchor="end">0</text>
<line x1="277.05" y1="650.90" x2="430.80" y2="650.90" stroke="#000" stroke-width="1.6"/>
<line x1="288.88" y1="650.90" x2="288.88" y2="655.20" stroke="#000" stroke-width="1.3"/>
<rect x="282.98" y="643.10" width="11.80" height="7.80" fill="#a30028"/>
<rect x="283.38" y="643.50" width="11.00" height="7.40" fill="none" stroke="#8c0020" stroke-width="0.8"/>
<line x1="288.88" y1="643.10" x2="288.88" y2="637.80" stroke="#000" stroke-width="1.35"/>
<line x1="285.63" y1="637.80" x2="292.12" y2="637.80" stroke="#000" stroke-width="1.35"/>
<text x="293.28" y="663.00" font-size="11.4" text-anchor="end" transform="rotate(-45 293.28 663.00)">Unt</text>
<line x1="307.41" y1="650.90" x2="307.41" y2="655.20" stroke="#000" stroke-width="1.3"/>
<rect x="301.51" y="642.50" width="11.80" height="8.40" fill="#a30028"/>
<rect x="301.91" y="642.90" width="11.00" height="8.00" fill="none" stroke="#8c0020" stroke-width="0.8"/>
<line x1="307.41" y1="642.50" x2="307.41" y2="637.20" stroke="#000" stroke-width="1.35"/>
<line x1="304.16" y1="637.20" x2="310.65" y2="637.20" stroke="#000" stroke-width="1.35"/>
<text x="311.81" y="663.00" font-size="11.4" text-anchor="end" transform="rotate(-45 311.81 663.00)">CQ</text>
<line x1="325.94" y1="650.90" x2="325.94" y2="655.20" stroke="#000" stroke-width="1.3"/>
<rect x="320.04" y="576.60" width="11.80" height="74.30" fill="#a30028"/>
<rect x="320.44" y="577.00" width="11.00" height="73.90" fill="none" stroke="#8c0020" stroke-width="0.8"/>
<line x1="325.94" y1="576.60" x2="325.94" y2="572.60" stroke="#000" stroke-width="1.35"/>
<line x1="322.69" y1="572.60" x2="329.19" y2="572.60" stroke="#000" stroke-width="1.35"/>
<text x="330.34" y="663.00" font-size="11.4" text-anchor="end" transform="rotate(-45 330.34 663.00)">AraC</text>
<line x1="344.47" y1="650.90" x2="344.47" y2="655.20" stroke="#000" stroke-width="1.3"/>
<rect x="338.57" y="568.70" width="11.80" height="82.20" fill="#a30028"/>
<rect x="338.97" y="569.10" width="11.00" height="81.80" fill="none" stroke="#8c0020" stroke-width="0.8"/>
<line x1="344.47" y1="568.70" x2="344.47" y2="559.70" stroke="#000" stroke-width="1.35"/>
<line x1="341.23" y1="559.70" x2="347.72" y2="559.70" stroke="#000" stroke-width="1.35"/>
<text x="348.87" y="663.00" font-size="11.4" text-anchor="end" transform="rotate(-45 348.87 663.00)">AraC+CQ</text>
<line x1="363.00" y1="650.90" x2="363.00" y2="655.20" stroke="#000" stroke-width="1.3"/>
<rect x="357.10" y="620.60" width="11.80" height="30.30" fill="#2f4b7b"/>
<rect x="357.50" y="621.00" width="11.00" height="29.90" fill="none" stroke="#1f3a6e" stroke-width="0.8"/>
<line x1="363.00" y1="620.60" x2="363.00" y2="614.80" stroke="#000" stroke-width="1.35"/>
<line x1="359.75" y1="614.80" x2="366.25" y2="614.80" stroke="#000" stroke-width="1.35"/>
<text x="367.40" y="663.00" font-size="11.4" text-anchor="end" transform="rotate(-45 367.40 663.00)">Unt</text>
<line x1="381.53" y1="650.90" x2="381.53" y2="655.20" stroke="#000" stroke-width="1.3"/>
<rect x="375.63" y="603.10" width="11.80" height="47.80" fill="#2f4b7b"/>
<rect x="376.03" y="603.50" width="11.00" height="47.40" fill="none" stroke="#1f3a6e" stroke-width="0.8"/>
<line x1="381.53" y1="603.10" x2="381.53" y2="593.60" stroke="#000" stroke-width="1.35"/>
<line x1="378.28" y1="593.60" x2="384.77" y2="593.60" stroke="#000" stroke-width="1.35"/>
<text x="385.93" y="663.00" font-size="11.4" text-anchor="end" transform="rotate(-45 385.93 663.00)">CQ</text>
<line x1="400.06" y1="650.90" x2="400.06" y2="655.20" stroke="#000" stroke-width="1.3"/>
<rect x="394.16" y="593.00" width="11.80" height="57.90" fill="#2f4b7b"/>
<rect x="394.56" y="593.40" width="11.00" height="57.50" fill="none" stroke="#1f3a6e" stroke-width="0.8"/>
<line x1="400.06" y1="593.00" x2="400.06" y2="582.00" stroke="#000" stroke-width="1.35"/>
<line x1="396.81" y1="582.00" x2="403.31" y2="582.00" stroke="#000" stroke-width="1.35"/>
<text x="404.46" y="663.00" font-size="11.4" text-anchor="end" transform="rotate(-45 404.46 663.00)">AraC</text>
<line x1="418.59" y1="650.90" x2="418.59" y2="655.20" stroke="#000" stroke-width="1.3"/>
<rect x="412.69" y="568.20" width="11.80" height="82.70" fill="#2f4b7b"/>
<rect x="413.09" y="568.60" width="11.00" height="82.30" fill="none" stroke="#1f3a6e" stroke-width="0.8"/>
<line x1="418.59" y1="568.20" x2="418.59" y2="559.40" stroke="#000" stroke-width="1.35"/>
<line x1="415.35" y1="559.40" x2="421.84" y2="559.40" stroke="#000" stroke-width="1.35"/>
<text x="422.99" y="663.00" font-size="11.4" text-anchor="end" transform="rotate(-45 422.99 663.00)">AraC+CQ</text>
<path d="M317.30,547.50 L317.30,545.10 Q317.30,544.50 317.90,544.50 L412.80,544.50 Q413.40,544.50 413.40,545.10 L413.40,547.50" fill="none" stroke="#000" stroke-width="1.2"/>
<text x="367.70" y="543.09" font-size="9.5" text-anchor="middle" stroke="#000" stroke-width="0.25" letter-spacing="0.6">*</text>
<path d="M318.00,556.60 L318.00,554.20 Q318.00,553.60 318.60,553.60 L350.10,553.60 Q350.70,553.60 350.70,554.20 L350.70,556.60" fill="none" stroke="#000" stroke-width="1.2"/>
<text x="334.35" y="552.30" font-size="10.3" text-anchor="middle">ns</text>
<path d="M393.20,557.50 L393.20,555.10 Q393.20,554.50 393.80,554.50 L425.00,554.50 Q425.60,554.50 425.60,555.10 L425.60,557.50" fill="none" stroke="#000" stroke-width="1.2"/>
<text x="409.80" y="553.59" font-size="9.5" text-anchor="middle" stroke="#000" stroke-width="0.25" letter-spacing="0.6">*</text>
<path d="M356.30,590.50 L356.30,588.10 Q356.30,587.50 356.90,587.50 L387.90,587.50 Q388.50,587.50 388.50,588.10 L388.50,590.50" fill="none" stroke="#000" stroke-width="1.2"/>
<text x="372.60" y="586.28" font-size="9.5" text-anchor="middle" stroke="#000" stroke-width="0.25" letter-spacing="0.6">*</text>
<line x1="283.80" y1="701.60" x2="350.80" y2="701.60" stroke="#000" stroke-width="1.4"/>
<line x1="356.10" y1="701.60" x2="421.90" y2="701.60" stroke="#000" stroke-width="1.4"/>
<text x="317.60" y="715.50" font-size="11" text-anchor="middle">21% O<tspan font-size="7.6" dx="0.9" dy="3">2</tspan></text>
<text x="389.10" y="715.50" font-size="11" text-anchor="middle">1% O<tspan font-size="7.6" dx="0.9" dy="3">2</tspan></text>
<text transform="translate(334.27 733.30) scale(0.5990 1)" font-size="13.5" letter-spacing="1.6" stroke="#000" stroke-width="0.45">MOLM13</text>
<text transform="translate(247.50 655.03) rotate(-90)" font-size="13.5" textLength="112.34" lengthAdjust="spacingAndGlyphs" stroke="#000" stroke-width="0.45">%annexin V/7-AAD positive</text>
<rect x="0" y="0" width="520" height="746" fill="none" stroke="#000" stroke-width="3"/>
</svg></body></html>
